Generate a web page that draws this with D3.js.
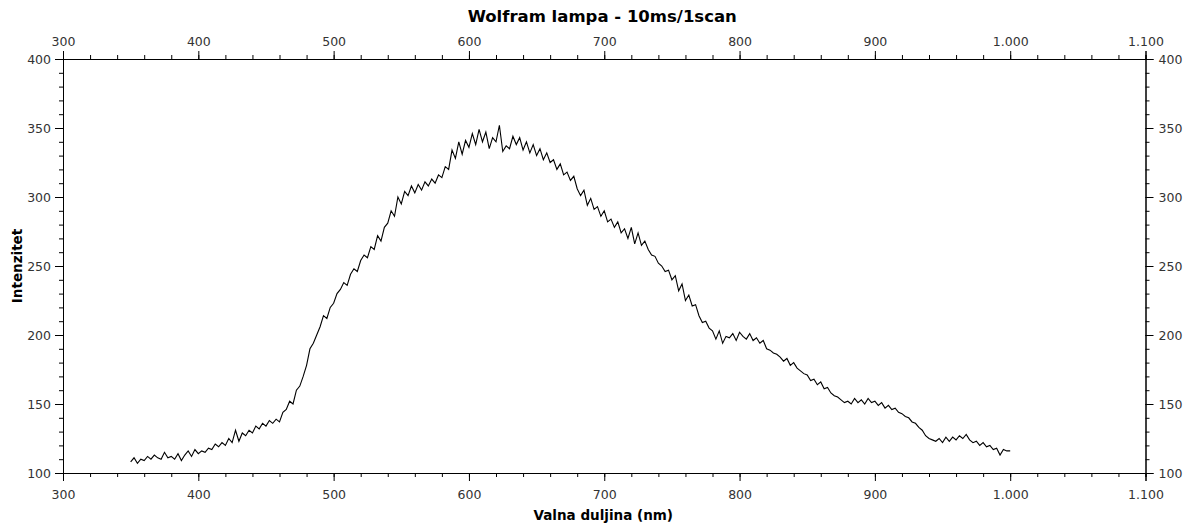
<!DOCTYPE html>
<html>
<head>
<meta charset="utf-8">
<script src="https://cdn.jsdelivr.net/npm/d3@7"></script>
<style>
  html, body { margin: 0; padding: 0; background: #fff; }
  svg { display: block; }
  text { font-family: "DejaVu Sans", Verdana, sans-serif; }
</style>
</head>
<body>
<svg id="chart" width="1190" height="527"></svg>
<script>
// ---- data ----
const title = "Wolfram lampa - 10ms/1scan";
const xTitle = "Valna duljina (nm)";
const yTitle = "Intenzitet";
const xDomain = [300, 1100];
const yDomain = [100, 400];
const xTickValues = [300, 400, 500, 600, 700, 800, 900, 1000, 1100];
const yTickValues = [100, 150, 200, 250, 300, 350, 400];
const wavelengthStart = 350;   // nm
const wavelengthStep = 2.5;    // nm
const intensity = [
  108,111,107,110, 109,112,110,113, 111,110,115,111, 112,110,114,109, 113,116,112,117,
  114,116,115,118, 117,121,119,122, 120,125,122,131, 123,129,127,131, 129,134,132,136,
  134,138,136,139, 137,144,146,152, 150,160,163,170, 178,190,194,200, 206,214,212,220,
  223,230,233,238, 236,244,248,246, 254,258,256,264, 262,272,268,278, 281,290,286,300,
  295,304,301,308, 303,309,305,311, 308,313,310,316, 314,322,320,334, 328,340,331,341,
  336,346,338,349, 340,347,335,343, 340,352,333,337, 335,344,338,343, 334,340,332,338,
  330,335,327,332, 325,327,320,324, 316,318,312,315, 306,301,305,294, 299,291,293,286,
  290,282,284,278, 282,274,277,270, 278,266,274,265, 268,262,258,257, 252,250,246,247,
  240,243,232,237, 225,229,221,222, 214,209,210,205, 203,197,203,194, 199,198,201,196,
  202,199,197,201, 196,198,194,196, 190,189,187,186, 184,181,183,178, 180,176,174,172,
  171,167,168,164, 166,161,162,158, 156,155,153,151, 152,150,154,151, 153,150,154,151,
  152,149,151,147, 149,146,147,144, 143,141,140,137, 136,133,131,127, 125,124,123,125,
  122,126,123,126, 124,127,125,128, 124,122,123,120, 122,119,120,117, 118,113,117,116,
  116
];

// ---- layout ----
const svg = d3.select("#chart");
const margin = { left: 63, right: 1145.5, top: 59, bottom: 473 };

const x = d3.scaleLinear().domain(xDomain).range([margin.left, margin.right]);
const y = d3.scaleLinear().domain(yDomain).range([margin.bottom, margin.top]);

const fmt = d3.formatLocale({ decimal: ",", thousands: ".", grouping: [3], currency: ["", ""] }).format(",d");

const data = intensity.map((v, i) => ({ w: wavelengthStart + i * wavelengthStep, v }));

const axisColor = "#000";
const labelColor = "#333";

function minorTicks(domain, step) {
  const out = [];
  for (let t = domain[0]; t <= domain[1] + 1e-9; t += step) out.push(t);
  return out;
}
const xMinor = minorTicks(xDomain, 20);
const yMinor = minorTicks(yDomain, 10);

function styleAxis(g) {
  g.select(".domain").attr("stroke", axisColor).attr("stroke-width", 1);
  g.selectAll(".tick line").attr("stroke", axisColor).attr("stroke-width", 1);
  g.selectAll(".tick text").attr("fill", labelColor).style("font-size", "12.5px");
}

// minor tick axes (no labels)
svg.append("g").attr("transform", `translate(0,${margin.bottom})`)
  .call(d3.axisBottom(x).tickValues(xMinor).tickSize(4).tickFormat(""))
  .call(styleAxis);
svg.append("g").attr("transform", `translate(0,${margin.top})`)
  .call(d3.axisTop(x).tickValues(xMinor).tickSize(4).tickFormat(""))
  .call(styleAxis);
svg.append("g").attr("transform", `translate(${margin.left},0)`)
  .call(d3.axisLeft(y).tickValues(yMinor).tickSize(4).tickFormat(""))
  .call(styleAxis);
svg.append("g").attr("transform", `translate(${margin.right},0)`)
  .call(d3.axisRight(y).tickValues(yMinor).tickSize(4).tickFormat(""))
  .call(styleAxis);

// major axes
svg.append("g").attr("transform", `translate(0,${margin.bottom})`)
  .call(d3.axisBottom(x).tickValues(xTickValues).tickSize(8).tickPadding(9).tickFormat(fmt))
  .call(styleAxis);
svg.append("g").attr("transform", `translate(0,${margin.top})`)
  .call(d3.axisTop(x).tickValues(xTickValues).tickSize(8).tickPadding(5).tickFormat(fmt))
  .call(styleAxis);
svg.append("g").attr("transform", `translate(${margin.left},0)`)
  .call(d3.axisLeft(y).tickValues(yTickValues).tickSize(8).tickPadding(4).tickFormat(fmt))
  .call(styleAxis);
svg.append("g").attr("transform", `translate(${margin.right},0)`)
  .call(d3.axisRight(y).tickValues(yTickValues).tickSize(8).tickPadding(5).tickFormat(fmt))
  .call(styleAxis);

// data line
const line = d3.line().x(d => x(d.w)).y(d => y(d.v));
svg.append("path")
  .datum(data)
  .attr("d", line)
  .attr("fill", "none")
  .attr("stroke", "#000")
  .attr("stroke-width", 1.1)
  .attr("stroke-linejoin", "miter");

// titles
svg.append("text")
  .attr("x", (margin.left + margin.right) / 2 - 2)
  .attr("y", 22)
  .attr("text-anchor", "middle")
  .style("font-size", "16.5px")
  .style("font-weight", "bold")
  .attr("fill", "#000")
  .text(title);

svg.append("text")
  .attr("x", (margin.left + margin.right) / 2 - 1)
  .attr("y", 520)
  .attr("text-anchor", "middle")
  .style("font-size", "13.5px")
  .style("font-weight", "bold")
  .attr("fill", "#000")
  .text(xTitle);

svg.append("text")
  .attr("transform", `translate(22,${(margin.top + margin.bottom) / 2}) rotate(-90)`)
  .attr("text-anchor", "middle")
  .style("font-size", "13.5px")
  .style("font-weight", "bold")
  .attr("fill", "#000")
  .text(yTitle);
</script>
</body>
</html>
